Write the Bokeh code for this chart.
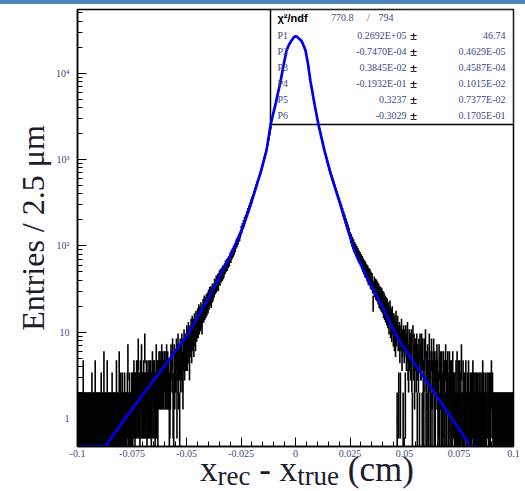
import numpy as np
from bokeh.plotting import figure
from bokeh.models import (Range1d, FixedTicker, CustomJSTickFormatter, Label, Div)
from bokeh.layouts import column
from bokeh.embed import file_html
from bokeh.resources import INLINE

# ---------------- data ----------------
BIN_WIDTH = 0.00025          # 2.5 um bins, in cm
X_MIN, X_MAX = -0.1, 0.1
Y_MIN, Y_MAX = 0.474, 54800.0

# entries per bin, -0.1 .. -0.05
counts_left_tail = [
    1, 1, 1, 1, 1, 1, 1, 1, 1, 1,   3, 1, 1, 1, 1, 1, 1, 1, 1, 1,
    1, 1, 1, 1, 1, 1, 2, 1, 1, 1,   1, 1, 3, 1, 1, 1, 1, 1, 1, 1,
    1, 1, 1, 2, 1, 1, 1, 1, 4, 1,   1, 1, 1, 1, 3, 1, 1, 1, 1, 1,
    1, 1, 1, 2, 1, 1, 1, 1, 1, 1,   1, 3, 1, 1, 1, 1, 4, 1, 1, 2,
    1, 1, 2, 1, 1, 1, 2, 1, 1, 1,   1, 2, 5, 1, 1, 2, 1, 1, 1, 2,
    2, 1, 2, 3, 2, 1, 2, 2, 3, 2,   3, 6, 2, 2, 1, 3, 2, 5, 2, 2,
    2, 3, 2, 7, 2, 2, 3, 1, 2, 3,   2, 2, 3, 2, 3, 1, 2, 4, 2, 3,
    2, 3, 1, 2, 5, 2, 3, 1, 3, 4,   3, 4, 3, 3, 5, 3, 4, 3, 3, 4,
    4, 3, 3, 5, 3, 4, 3, 3, 1, 2,   3, 5, 0, 4, 6, 2, 1, 5, 3, 4,
    4, 6, 2, 5, 7, 3, 5, 1, 6, 4,   5, 7, 4, 3, 6, 8, 5, 7, 6, 6,
]
# -0.05 .. 0
counts_left_core = [
    9, 6, 8, 10, 7, 5, 9, 8, 11, 7,
    12, 9, 11, 8, 13, 10, 9, 14, 11, 12,
    15, 12, 17, 13, 16, 14, 18, 15, 13, 17,
    20, 17, 22, 18, 21, 19, 23, 20, 24, 21,
    26, 23, 28, 25, 29, 24, 27, 31, 28, 30,
    31, 36, 33, 34, 39, 35, 37, 41, 36, 42,
    45, 41, 47, 44, 49, 46, 52, 48, 50, 55,
    54, 60, 57, 62, 59, 65, 63, 68, 66, 72,
    76, 72, 81, 79, 85, 83, 91, 87, 97, 94,
    102, 109, 106, 116, 113, 121, 126, 124, 135, 141,
    158, 152, 171, 169, 186, 181, 204, 197, 216, 213,
    236, 233, 258, 251, 279, 276, 301, 297, 328, 324,
    352, 371, 374, 409, 411, 449, 452, 490, 494, 531,
    561, 569, 617, 628, 681, 692, 748, 763, 824, 843,
    912, 941, 1030, 1061, 1158, 1196, 1305, 1349, 1471, 1522,
    1662, 1751, 1930, 2030, 2231, 2350, 2581, 2722, 2990, 3150,
    3450, 3642, 3975, 4198, 4580, 4840, 5275, 5580, 6070, 6430,
    7010, 7430, 8120, 8610, 9410, 9980, 10900, 11560, 12620, 13410,
    14450, 14910, 15870, 16400, 17420, 18030, 19120, 19820, 20990, 21760,
    22610, 23470, 23990, 24890, 25290, 25960, 26200, 26710, 26700, 27010,
]
# 0 .. 0.05
counts_right_core = [
    27010, 26740, 26800, 26350, 26310, 25720, 25600, 24930, 24700, 23980,
    23660, 22510, 21880, 20810, 20290, 19270, 18780, 17830, 17390, 16490,
    15720, 14190, 13200, 11890, 11100, 9990, 9330, 8390, 7840, 7050,
    6610, 6010, 5690, 5170, 4890, 4450, 4210, 3820, 3620, 3290,
    3020, 2750, 2610, 2380, 2260, 2050, 1956, 1780, 1690, 1540,
    1478, 1362, 1321, 1219, 1183, 1090, 1061, 975, 949, 872,
    852, 791, 779, 718, 709, 652, 648, 594, 590, 541,
    536, 497, 490, 451, 446, 410, 407, 374, 371, 340,
    339, 311, 309, 283, 284, 257, 259, 234, 236, 214,
    216, 194, 197, 177, 180, 161, 164, 146, 150, 133,
    133, 118, 126, 109, 117, 102, 109, 95, 101, 90,
    96, 84, 90, 78, 86, 73, 80, 70, 76, 67,
    72, 61, 68, 57, 64, 54, 61, 50, 58, 49,
    54, 45, 52, 42, 49, 41, 47, 38, 44, 37,
    42, 34, 22, 33, 38, 31, 36, 29, 35, 28,
    33, 26, 31, 24, 29, 23, 28, 22, 27, 21,
    25, 19, 24, 18, 22, 17, 21, 16, 20, 15,
    18, 13, 16, 19, 12, 15, 11, 16, 13, 10,
    13, 9, 12, 8, 14, 10, 1, 12, 9, 2,
    10, 7, 2, 9, 11, 6, 8, 1, 9, 7,
]
# 0.05 .. 0.1
counts_right_tail = [
    8, 2, 9, 6, 7, 10, 5, 4, 8, 6,   7, 5, 8, 4, 1, 9, 5, 7, 3, 6,
    6, 4, 7, 1, 5, 4, 6, 1, 7, 5,   5, 7, 1, 6, 3, 1, 6, 4, 8, 1,
    4, 1, 5, 3, 1, 7, 4, 1, 3, 6,   1, 3, 4, 6, 1, 4, 1, 3, 4, 5,
    3, 1, 2, 5, 1, 4, 3, 1, 4, 1,   2, 4, 1, 3, 1, 5, 3, 1, 3, 4,
    1, 2, 4, 1, 3, 1, 3, 1, 4, 2,   2, 1, 2, 1, 3, 1, 4, 1, 1, 3,
    1, 3, 1, 2, 5, 1, 1, 3, 1, 2,   1, 2, 3, 1, 1, 2, 1, 3, 1, 1,
    2, 1, 2, 1, 2, 3, 1, 2, 1, 2,   1, 2, 1, 2, 1, 1, 2, 1, 2, 1,
    2, 1, 1, 3, 1, 2, 1, 1, 2, 1,   1, 2, 0, 2, 1, 1, 2, 1, 2, 3,
    0, 2, 1, 1, 1, 1, 1, 1, 1, 1,   1, 1, 1, 1, 1, 1, 1, 1, 1, 1,
    1, 1, 1, 1, 1, 1, 1, 1, 1, 1,   1, 1, 1, 1, 1, 1, 1, 1, 1, 1,
]

# fitted function, points
fit_x = [-0.1, -0.0872, -0.08, -0.07, -0.06, -0.0493, -0.0406, -0.035, -0.0288,
         -0.024, -0.020, -0.016, -0.0133, -0.0114, -0.009, -0.0068, -0.0055,
         -0.0041, -0.003, -0.0018, -0.0008, 0.0, 0.0008, 0.0018, 0.0027,
         0.0036, 0.0046, 0.0057, 0.0068, 0.0088, 0.0105, 0.0133, 0.016, 0.020,
         0.024, 0.0269, 0.033, 0.0384, 0.043, 0.0475, 0.055, 0.065, 0.072,
         0.0804, 0.084]
fit_y = [0.17, 0.48, 0.86, 1.9, 4.1, 9.6, 23.3, 43.0, 88.5,
         166.0, 336.0, 710.0, 1275.0, 2560.0, 4570.0, 8260.0, 12300.0,
         18370.0, 21400.0, 24000.0, 26000.0, 26900.0, 26400.0, 25000.0, 23800.0,
         21300.0, 18370.0, 13000.0, 8260.0, 4300.0, 2560.0, 1275.0, 700.0, 336.0,
         155.0, 88.5, 42.0, 23.3, 13.5, 8.0, 4.2, 1.77, 0.98,
         0.474, 0.35]

# tick labels
x_tick_values = [-0.1, -0.075, -0.05, -0.025, 0.0, 0.025, 0.05, 0.075, 0.1]
x_tick_labels = ["-0.1", "-0.075", "-0.05", "-0.025", "0", "0.025", "0.05", "0.075", "0.1"]
y_tick_values = [1, 10, 100, 1000, 10000]
y_tick_labels = ["1", "10", "10\u00b2", "10\u00b3", "10\u2074"]

# statistics box
chi2_value, ndf_value = "770.8", "794"
par_names = ["P1", "P2", "P3", "P4", "P5", "P6"]
par_values = ["0.2692E+05", "-0.7470E-04", "0.3845E-02", "-0.1932E-01", "0.3237", "-0.3029"]
par_errors = ["46.74", "0.4629E-05", "0.4587E-04", "0.1015E-02", "0.7377E-02", "0.1705E-01"]

# axis titles
y_title = "Entries / 2.5 \u03bcm"
x_title_main = ["x", "x"]
x_title_subs = ["rec", "true"]
x_title_unit = "(cm)"

# ---------------- layout geometry (page pixels) ----------------
PAGE_W, PAGE_H = 525, 491
BAND_H = 4
FRAME_L, FRAME_R, FRAME_T, FRAME_B = 77, 513, 9, 446
MAIN_BOTTOM = 462                       # page y where the title strip begins
LOG_LO, LOG_HI = np.log10(Y_MIN), np.log10(Y_MAX)


def X(px):
    return X_MIN + (px - FRAME_L) * (X_MAX - X_MIN) / (FRAME_R - FRAME_L)


def Y(py):
    return 10 ** (LOG_HI - (py - FRAME_T) * (LOG_HI - LOG_LO) / (FRAME_B - FRAME_T))


SERIF = "Liberation Serif"
NAVY = "#3c4a80"
DARK = "#1c1c2c"

p = figure(width=PAGE_W, height=MAIN_BOTTOM - BAND_H,
           x_range=Range1d(X_MIN, X_MAX), y_range=Range1d(Y_MIN, Y_MAX),
           y_axis_type="log", output_backend="svg", toolbar_location=None,
           min_border_left=FRAME_L, min_border_right=PAGE_W - FRAME_R,
           min_border_top=FRAME_T - BAND_H, min_border_bottom=MAIN_BOTTOM - FRAME_B)
p.title.visible = False
p.xgrid.visible = False
p.ygrid.visible = False
p.background_fill_color = "white"
p.border_fill_color = "white"
p.outline_line_color = "black"
p.outline_line_width = 1.5

# ---------------- histogram with error bars ----------------
counts = np.array(counts_left_tail + counts_left_core + counts_right_core + counts_right_tail,
                  dtype=float)
nb = len(counts)
edges = X_MIN + BIN_WIDTH * np.arange(nb + 1)
centers = 0.5 * (edges[:-1] + edges[1:])
m = counts > 0
err = np.sqrt(counts)
lo = np.where(counts - err > 0, counts - err, 1e-3)
hi = counts + err
p.segment(x0=centers[m], y0=lo[m], x1=centers[m], y1=hi[m], line_color="black", line_width=1.6)
p.segment(x0=edges[:-1][m], y0=counts[m], x1=edges[1:][m], y1=counts[m],
          line_color="black", line_width=1.4)

# ---------------- stats box ----------------
p.quad(left=X(270), right=X_MAX, bottom=Y(124), top=Y_MAX,
       fill_color="white", line_color="black", line_width=1.5)

# ---------------- fit curve ----------------
p.line(fit_x, np.maximum(np.array(fit_y), Y_MIN), line_color="#0000ee", line_width=2.7)


def lab(text, px, py, size, color=NAVY, align="left", baseline="middle", font=SERIF,
        style="normal"):
    p.add_layout(Label(x=X(px), y=Y(py), text=text, text_font=font, text_font_size=f"{size}px",
                       text_color=color, text_align=align, text_baseline=baseline,
                       text_font_style=style))


lab("\u03c7\u00b2/ndf", 277, 17, 11, color="black", font="Liberation Sans", style="bold")
lab(chi2_value, 353, 17, 10, align="right")
lab("/", 368, 17, 10, align="center")
lab(ndf_value, 378, 17, 10)
for i in range(6):
    cy = 35 + 16 * i
    lab(par_names[i], 277, cy, 10)
    lab(par_values[i], 406, cy, 10, align="right")
    lab("\u00b1", 413, cy, 13, color="black", align="center", style="bold")
    lab(par_errors[i], 505, cy, 10, align="right")

# ---------------- axes ----------------
fmt_code = """
let best = 0, bd = 1e300;
for (let i = 0; i < vals.length; i++) {
  const d = LOG ? Math.abs(Math.log10(vals[i]) - Math.log10(tick)) : Math.abs(vals[i] - tick);
  if (d < bd) { bd = d; best = i; }
}
return labels[best];
"""
minor_x = [round(-0.1 + 0.005 * k, 4) for k in range(41)]
p.xaxis.ticker = FixedTicker(ticks=x_tick_values, minor_ticks=minor_x)
p.xaxis.formatter = CustomJSTickFormatter(args=dict(vals=x_tick_values, labels=x_tick_labels, LOG=False),
                                          code=fmt_code)
minor_y = [k * 10.0 ** d for d in range(-1, 5) for k in range(2, 10)]
p.yaxis.ticker = FixedTicker(ticks=y_tick_values, minor_ticks=minor_y)
p.yaxis.formatter = CustomJSTickFormatter(args=dict(vals=y_tick_values, labels=y_tick_labels, LOG=True),
                                          code=fmt_code)
for ax in (p.xaxis[0], p.yaxis[0]):
    ax.axis_line_color = "black"
    ax.axis_line_width = 1.5
    ax.major_tick_in = 9
    ax.major_tick_out = 0
    ax.minor_tick_in = 5
    ax.minor_tick_out = 0
    ax.major_tick_line_color = "black"
    ax.minor_tick_line_color = "black"
    ax.major_label_text_font = SERIF
    ax.major_label_text_font_size = "10px"
    ax.major_label_text_color = NAVY
p.xaxis.major_label_standoff = 3
p.yaxis.major_label_standoff = 8

p.yaxis.axis_label = y_title
p.yaxis.axis_label_text_font = SERIF
p.yaxis.axis_label_text_font_size = "32px"
p.yaxis.axis_label_text_font_style = "normal"
p.yaxis.axis_label_text_color = DARK
p.yaxis.axis_label_standoff = 2

# ---------------- x title (HTML text with real subscripts) ----------------
sub_style = "font-size:27px; line-height:0; position:relative; top:4px;"
title_html = (
    f'<div style="position:relative; top:-10px; margin:0; padding-left:200px; '
    f'font-family:\'{SERIF}\'; font-size:35px; line-height:35px; color:{DARK}; '
    f'white-space:nowrap;">'
    f'{x_title_main[0]}<span style="{sub_style}">{x_title_subs[0]}</span> - '
    f'{x_title_main[1]}<span style="{sub_style}">{x_title_subs[1]}</span> {x_title_unit}</div>'
)
title_div = Div(text=title_html, width=PAGE_W, height=PAGE_H - MAIN_BOTTOM, margin=0,
                styles={"overflow": "visible"})

band = Div(text="", width=PAGE_W, height=BAND_H, margin=0,
           styles={"background-color": "#4f81bd", "overflow": "hidden"})
layout = column(band, p, title_div, spacing=0, margin=0)

open("out.html", "w").write(file_html(layout, INLINE))
